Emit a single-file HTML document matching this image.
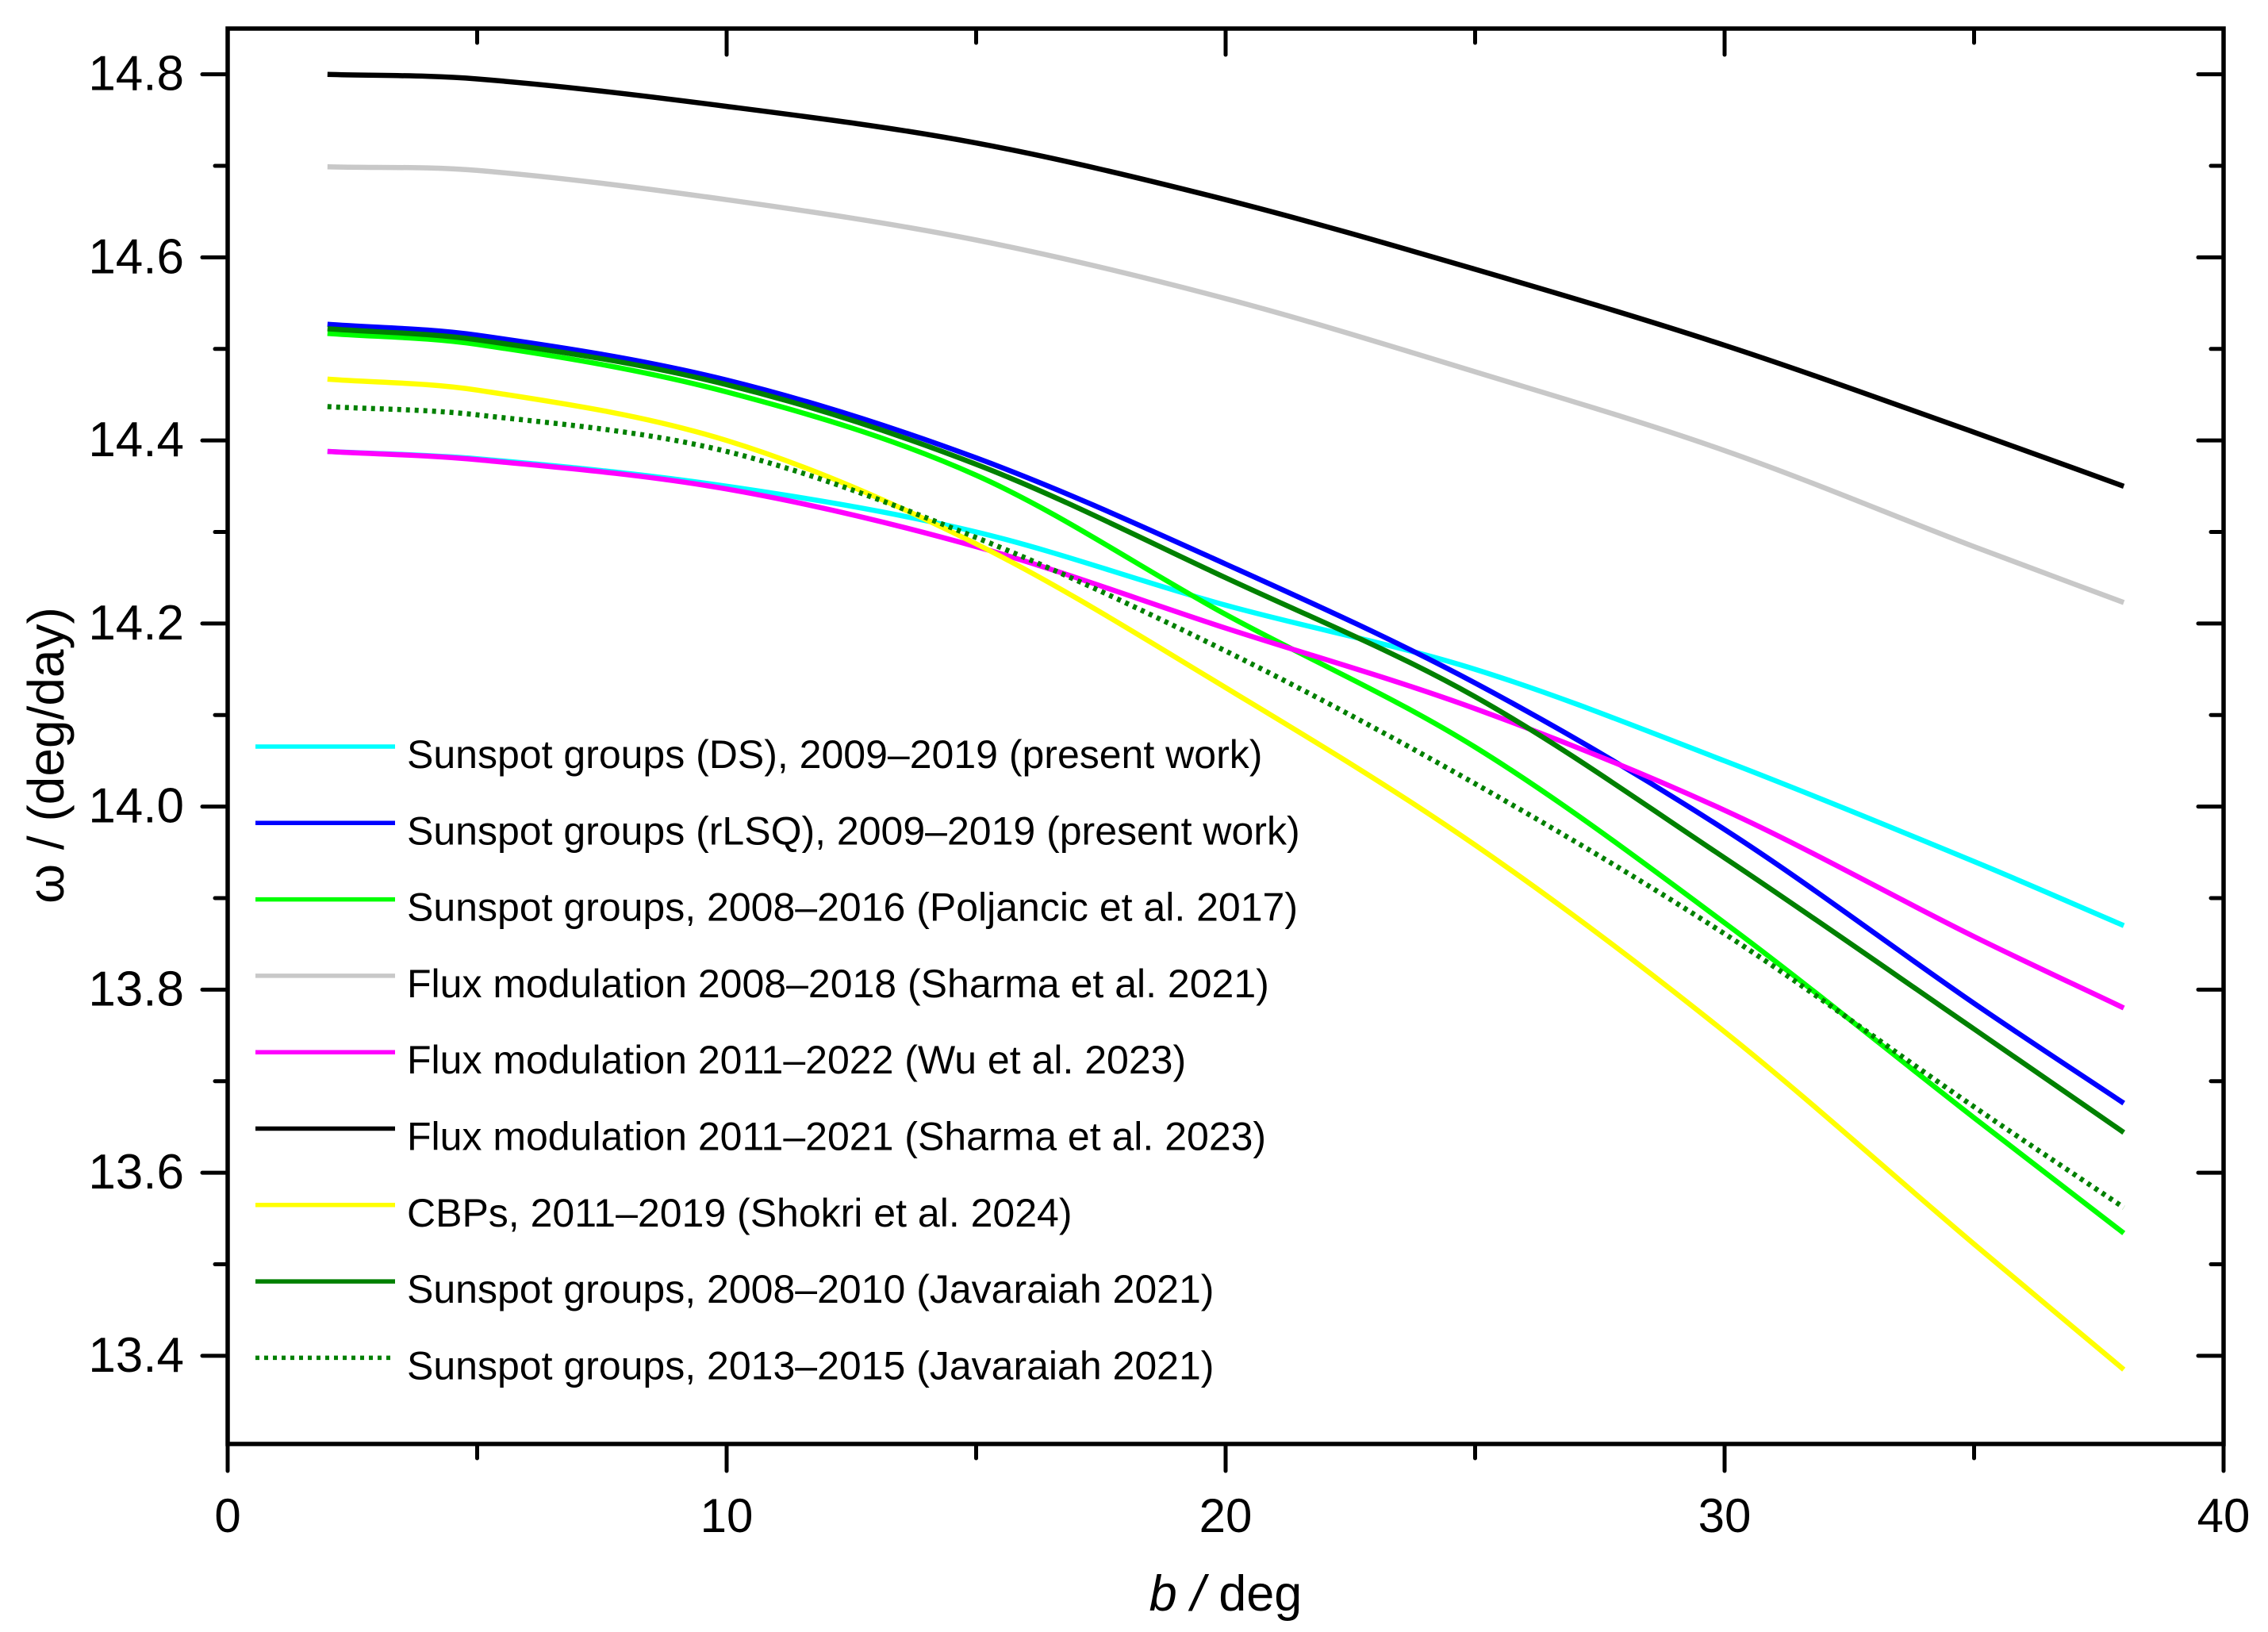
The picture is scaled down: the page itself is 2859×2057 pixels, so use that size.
<!DOCTYPE html>
<html><head><meta charset="utf-8"><style>
html,body{margin:0;padding:0;background:#fff}
svg{display:block}
text{font-family:"Liberation Sans",sans-serif;fill:#000}
</style></head><body>
<svg id="chart" width="2859" height="2057" viewBox="0 0 2859 2057" xmlns="http://www.w3.org/2000/svg">
<g id="plot"></g>
</svg>
<script>
const latitudes = [2, 5, 10, 15, 20, 25, 30, 35, 38];
const dsValues = [14.388, 14.380, 14.350, 14.300, 14.220, 14.150, 14.050, 13.940, 13.870];
const rlsqValues = [14.527, 14.515, 14.466, 14.381, 14.265, 14.135, 13.975, 13.785, 13.676];
const poljancicValues = [14.517, 14.505, 14.453, 14.362, 14.210, 14.065, 13.873, 13.660, 13.534];
const sharma2021Values = [14.699, 14.695, 14.663, 14.619, 14.555, 14.475, 14.389, 14.284, 14.223];
const wuValues = [14.388, 14.379, 14.347, 14.284, 14.195, 14.107, 13.996, 13.858, 13.780];
const sharma2023Values = [14.800, 14.795, 14.765, 14.725, 14.663, 14.587, 14.504, 14.409, 14.350];
const shokriValues = [14.467, 14.455, 14.400, 14.287, 14.130, 13.958, 13.754, 13.522, 13.385];
const javaraiah0810Values = [14.522, 14.510, 14.461, 14.374, 14.250, 14.120, 13.944, 13.757, 13.644];
const javaraiah1315Values = [14.437, 14.428, 14.388, 14.294, 14.170, 14.025, 13.861, 13.672, 13.562];
const xTickValues = [0, 10, 20, 30, 40];
const xTickLabels = ["0", "10", "20", "30", "40"];
const yTickValues = [13.4, 13.6, 13.8, 14.0, 14.2, 14.4, 14.6, 14.8];
const yTickLabels = ["13.4", "13.6", "13.8", "14.0", "14.2", "14.4", "14.6", "14.8"];
const seriesNames = [
 "Sunspot groups (DS), 2009\u20132019 (present work)",
 "Sunspot groups (rLSQ), 2009\u20132019 (present work)",
 "Sunspot groups, 2008\u20132016  (Poljancic et al. 2017)",
 "Flux modulation 2008\u20132018 (Sharma et al. 2021)",
 "Flux modulation 2011\u20132022 (Wu et al. 2023)",
 "Flux modulation 2011\u20132021 (Sharma et al. 2023)",
 " CBPs, 2011\u20132019 (Shokri et al. 2024)",
 "Sunspot groups, 2008\u20132010 (Javaraiah 2021)",
 "Sunspot groups, 2013\u20132015 (Javaraiah 2021)"
];
const seriesValues = [dsValues, rlsqValues, poljancicValues, sharma2021Values, wuValues, sharma2023Values, shokriValues, javaraiah0810Values, javaraiah1315Values];

const NS = "http://www.w3.org/2000/svg";
const L = 287, R = 2803, T = 36, B = 1820;
const X0 = 0, X1 = 40, Y0 = 13.3037, Y1 = 14.85;
const xs = v => L + (v - X0) / (X1 - X0) * (R - L);
const ys = v => B - (v - Y0) / (Y1 - Y0) * (B - T);
const colors = ["#00ffff", "#0000ff", "#00ff00", "#c8c8c8", "#ff00ff", "#000000", "#ffff00", "#008000", "#008000"];
const keys = ["ds", "rlsq", "poljancic-2017", "sharma-2021", "wu-2023", "sharma-2023", "shokri-2024", "javaraiah-2008-2010", "javaraiah-2013-2015"];
const plot = document.getElementById("plot");
function mk(tag, attrs, parent) {
  const e = document.createElementNS(NS, tag);
  for (const k in attrs) e.setAttribute(k, attrs[k]);
  (parent || plot).appendChild(e);
  return e;
}
function smoothPath(px, py) {
  let d = "M" + px[0].toFixed(1) + "," + py[0].toFixed(1);
  for (let i = 0; i < px.length - 1; i++) {
    const i0 = Math.max(0, i - 1), i3 = Math.min(px.length - 1, i + 2);
    const h = px[i + 1] - px[i];
    const m1 = (py[i + 1] - py[i0]) / (px[i + 1] - px[i0]);
    const m2 = (py[i3] - py[i]) / (px[i3] - px[i]);
    const c1x = px[i] + h / 3, c1y = py[i] + m1 * h / 3;
    const c2x = px[i + 1] - h / 3, c2y = py[i + 1] - m2 * h / 3;
    d += " C" + c1x.toFixed(1) + "," + c1y.toFixed(1) + " " + c2x.toFixed(1) + "," + c2y.toFixed(1) + " " + px[i + 1].toFixed(1) + "," + py[i + 1].toFixed(1);
  }
  return d;
}
// curves
seriesValues.forEach((vals, s) => {
  const p = mk("path", {d: smoothPath(latitudes.map(xs), vals.map(ys)), fill: "none", stroke: colors[s], "stroke-width": 6.5, "stroke-linecap": "butt"});
  if (s === 8) p.setAttribute("stroke-dasharray", "5 6");
  
  
});
// frame
const frame = mk("rect", {x: L, y: T, width: R - L, height: B - T, fill: "none", stroke: "#000", "stroke-width": 5.5});


// x ticks
for (let v = 0; v <= 40; v += 5) {
  const major = v % 10 === 0;
  const tb = mk("line", {x1: xs(v), x2: xs(v), y1: B, y2: B + (major ? 34 : 18), stroke: "#000", "stroke-width": 5, "stroke-linecap": "round"});
  
  
  const tt = mk("line", {x1: xs(v), x2: xs(v), y1: T, y2: T + (major ? 33 : 18), stroke: "#000", "stroke-width": 5, "stroke-linecap": "round"});
  
  
}
xTickValues.forEach((v, i) => {
  const t = mk("text", {x: xs(v), y: 1931, "font-size": 60, "text-anchor": "middle"});
  t.textContent = xTickLabels[i];
  
  
});
// y ticks
for (let k = 134; k <= 148; k++) {
  const v = k / 10;
  const major = k % 2 === 0;
  const tl = mk("line", {x1: L - (major ? 32 : 16), x2: L, y1: ys(v), y2: ys(v), stroke: "#000", "stroke-width": 5, "stroke-linecap": "round"});
  
  
  const tr = mk("line", {x1: R - (major ? 32 : 16), x2: R, y1: ys(v), y2: ys(v), stroke: "#000", "stroke-width": 5, "stroke-linecap": "round"});
  
  
}
yTickValues.forEach((v, i) => {
  const t = mk("text", {x: 232, y: ys(v) + 20, "font-size": 62, "text-anchor": "end"});
  t.textContent = yTickLabels[i];
  
  
});
// axis titles
const xt = mk("text", {x: 1545, y: 2030, "font-size": 63, "text-anchor": "middle"});
xt.innerHTML = '<tspan font-style="italic">b /</tspan> deg';


const yt = mk("text", {x: 0, y: 0, "font-size": 64, "text-anchor": "middle", transform: "translate(80,952) rotate(-90)"});
yt.textContent = "\u03c9 / (deg/day)";


// legend
const leg = mk("g", {});


seriesNames.forEach((name, s) => {
  const y = 941 + 96.3 * s;
  const g = mk("g", {}, leg);
  
  
  const ln = mk("line", {x1: 322, x2: 498, y1: y, y2: y, stroke: colors[s], "stroke-width": 5.5}, g);
  if (s === 8) ln.setAttribute("stroke-dasharray", "5 6");
  
  
  const t = mk("text", {x: 513, y: y + 27, "font-size": 50, "xml:space": "preserve"}, g);
  t.textContent = name;
  
  
});
</script>
</body></html>
